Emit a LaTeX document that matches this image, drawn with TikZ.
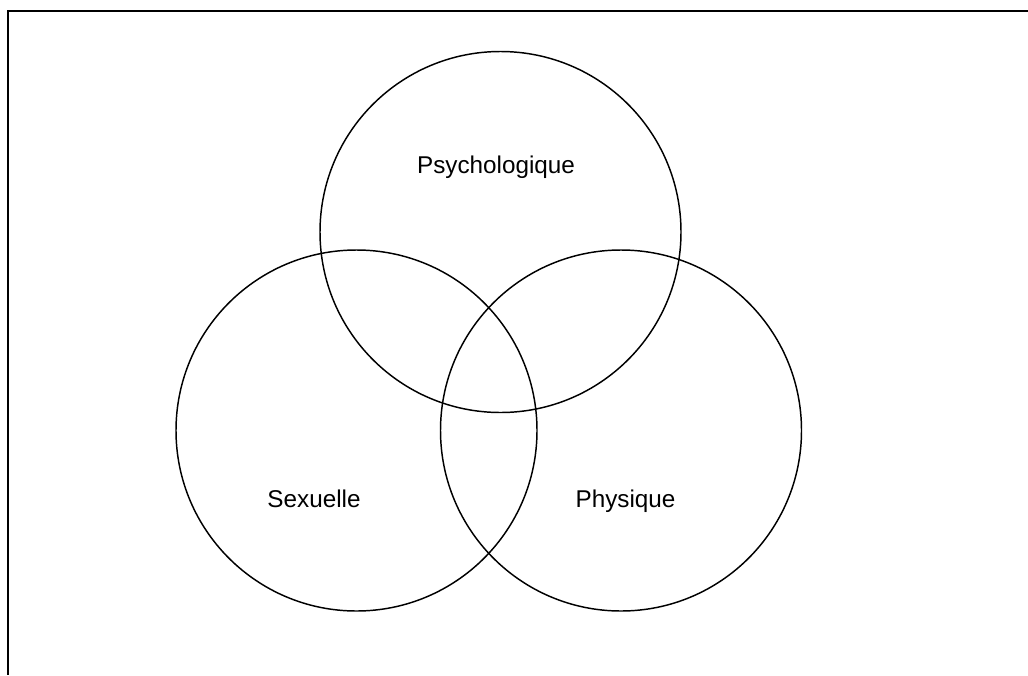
\documentclass[tikz,border=0pt]{standalone}
\usepackage{fontspec}
\setmainfont{Liberation Sans}
\begin{document}
\begin{tikzpicture}[x=0.75pt,y=-0.75pt,
  ring/.style={draw=black,line width=1.1pt,circle,minimum size=361*0.75pt,inner sep=0pt},
  lbl/.style={font=\fontsize{18.2pt}{20pt}\selectfont,inner sep=0pt,anchor=base}]
\useasboundingbox (0,0) rectangle (1028,675);
\fill[white] (0,0) rectangle (1028,675);
\coordinate (tl) at (8,11);
\coordinate (tr) at (1028,11);
\coordinate (bl) at (8,675);
\draw[line width=1.6pt] (tr) -- (tl) -- (bl);
\node[ring] (psy) at (500.5,232) {};
\node[ring] (sex) at (356.5,430.5) {};
\node[ring] (phy) at (621,430.5) {};
\node[lbl] (tpsy) at (496,173) {Psychologique};
\node[lbl] (tsex) at (314,507) {Sexuelle};
\node[lbl] (tphy) at (625.5,507) {Physique};
\end{tikzpicture}
\end{document}
